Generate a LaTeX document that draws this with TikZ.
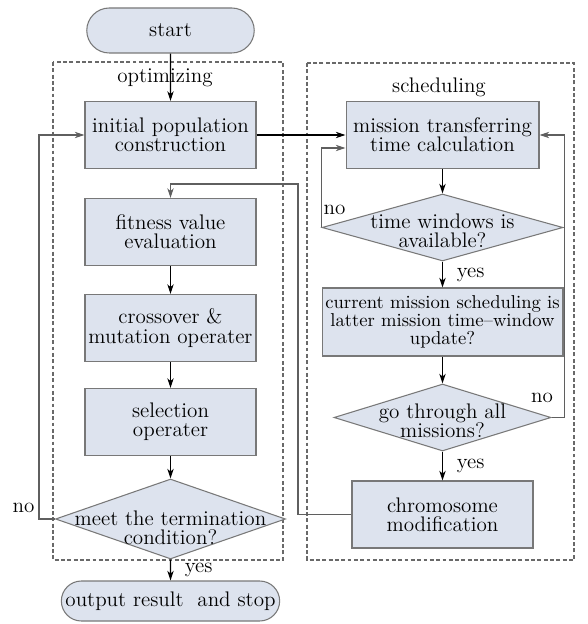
\documentclass[tikz,border=0pt]{standalone}
\usepackage{amsmath}
\usetikzlibrary{positioning}
\usetikzlibrary{shapes.geometric}
\usetikzlibrary{shapes.misc}
\usetikzlibrary{arrows.meta}

\definecolor{boxfill}{RGB}{221,227,238}
\definecolor{boxline}{RGB}{120,120,120}
\definecolor{frameline}{RGB}{105,105,105}
\definecolor{loopline}{RGB}{95,95,95}

\begin{document}
\begin{tikzpicture}[x=0.02cm, y=-0.02cm, font=\fontsize{12}{11}\selectfont,
    terminal/.style={draw=boxline, fill=boxfill, line width=0.6pt, rounded rectangle, inner sep=1pt},
    process/.style={draw=boxline, fill=boxfill, line width=0.6pt, align=center, inner sep=1pt, minimum width=3.42cm, minimum height=1.34cm},
    decision/.style={draw=boxline, fill=boxfill, line width=0.6pt, diamond, inner sep=0pt},
    frame/.style={draw=frameline, line width=1pt, dash pattern=on 2.2pt off 1.4pt},
    arrow/.style={line width=0.6pt, -{Stealth[length=5.5pt, width=3.6pt, inset=1.6pt]}},
    back/.style={arrow, draw=loopline}]
    \useasboundingbox[fill=white] (0,0) rectangle (587,624);

    % dashed groups
    \draw[frame] (53,62) rectangle (283,560);
    \draw[frame] (307,63) rectangle (574,560);
    \node (optimizing) at (165,78) {optimizing};
    \node (scheduling) at (439,87) {scheduling};

    % left column
    \node[terminal, minimum width=3.42cm, minimum height=0.9cm] (start) at (170.5,30.5) {start};
    \node[process] (init) at (170.5,135) {initial population\\construction};
    \node[process] (fitness) at (170.5,232) {fitness value\\evaluation};
    \node[process] (cross) at (170.5,328) {crossover \&\\mutation operater};
    \node[process] (select) at (170.5,422) {selection\\operater};
    \node[decision, minimum width=4.6cm, minimum height=1.6cm,
          label={[align=center, yshift=-5pt]center:meet the termination\\condition?}] (meet) at (170.5,519) {};
    \node[terminal, minimum width=4.26cm, minimum height=0.8cm] (output) at (170.5,601) {output result~~and stop};

    % right column
    \node[process, minimum width=3.86cm] (mission) at (442.5,135) {mission transferring\\time calculation};
    \node[decision, minimum width=4.82cm, minimum height=1.34cm,
          label={[align=center, yshift=-2pt]center:time windows is\\available?}] (window) at (442.5,227.5) {};
    \node[process, minimum width=4.82cm, minimum height=1.36cm, font=\fontsize{10.6}{10.2}\selectfont] (current) at (442.5,322) {current mission scheduling is\\latter mission time--window\\update?};
    \node[decision, minimum width=4.34cm, minimum height=1.34cm,
          label={[align=center, yshift=-2pt]center:go through all\\missions?}] (through) at (442.5,417.5) {};
    \node[process, minimum width=3.62cm] (chromo) at (442.5,514.5) {chromosome\\modification};

    % main flow
    \draw[arrow] (start) -- (init);
    \draw[arrow] (init.east) -- (mission.west);
    \draw[arrow] (fitness) -- (cross);
    \draw[arrow] (cross) -- (select);
    \draw[arrow] (select) -- (meet);
    \draw[arrow] (meet) -- node[right=4.5pt] (yes1) {yes} (output);
    \draw[arrow] (mission) -- (window);
    \draw[arrow] (window) -- node[right=4.5pt] (yes2) {yes} (current);
    \draw[arrow] (current) -- (through);
    \draw[arrow] (through) -- node[right=4.5pt] (yes3) {yes} (chromo);

    % feedback loops
    \draw[back] (meet.west) -- ++(-16,0) |- (init.west);
    \node (no1) at (23.5,507.5) {no};
    \draw[back] (window.west) |- ([yshift=-7.4pt]mission.west);
    \node (no2) at (334.5,210) {no};
    \draw[back] (through.east) -- ++(13,0) |- (mission.east);
    \node (no3) at (542,397.5) {no};
    \coordinate (turn) at (298,184);
    \draw[back] (chromo.west) -| (turn) -| (fitness.north);
\end{tikzpicture}
\end{document}
